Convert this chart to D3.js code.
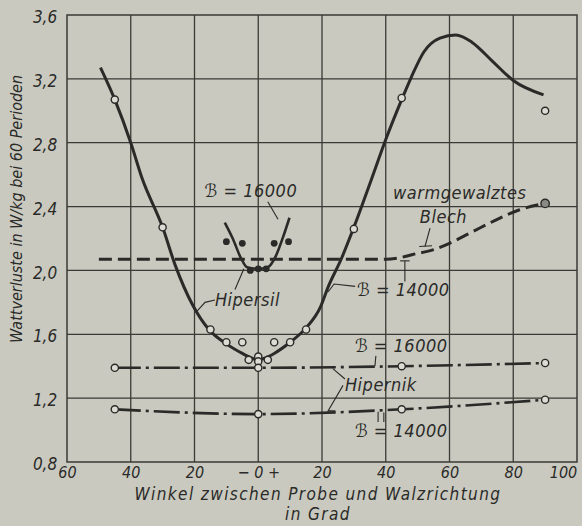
<!DOCTYPE html>
<html>
<head>
<meta charset="utf-8">
<script src="https://cdn.jsdelivr.net/npm/d3@7"></script>
<style>
  body { margin: 0; background: #c9c9bf; }
  svg text { font-family: "DejaVu Sans Condensed", "DejaVu Sans", sans-serif; font-style: italic; fill: #2a2a28; }
</style>
</head>
<body>
<div id="chart"></div>
<script>
// tick labels
var xTicks = [-60, -40, -20, 0, 20, 40, 60, 80, 100];
var xTickLabels = ["60", "40", "20", "\u2212 0 +", "20", "40", "60", "80", "100"];
var yTicks = [0.8, 1.2, 1.6, 2.0, 2.4, 2.8, 3.2, 3.6];
var yTickLabels = ["0,8", "1,2", "1,6", "2,0", "2,4", "2,8", "3,2", "3,6"];

// Hipersil, B = 14000 (solid curve) and its measured points
var hipersil14Curve = [[-49.5, 3.27], [-45, 3.07], [-40, 2.80], [-36.5, 2.58], [-30, 2.27], [-26, 2.03],
  [-20.5, 1.78], [-15.5, 1.63], [-10, 1.54], [-5, 1.48], [-2, 1.45], [0, 1.44], [2, 1.45], [5, 1.48],
  [10, 1.55], [15, 1.64], [19.5, 1.77], [22, 1.90], [26, 2.07], [30, 2.27], [35.5, 2.57], [40, 2.82],
  [45, 3.07], [48, 3.21], [52, 3.37], [57, 3.455], [62, 3.475], [67, 3.43], [73.5, 3.31], [80, 3.19], [89.5, 3.10]];
var hipersil14Points = [[-45, 3.07], [-30, 2.27], [-15, 1.63], [-10, 1.55], [-5, 1.55], [-3, 1.44],
  [0, 1.46], [0, 1.43], [3, 1.44], [5, 1.55], [10, 1.55], [15, 1.63], [30, 2.26], [45, 3.08], [90, 3.0]];

// Hipersil, B = 16000 (short curve) and its points
var hipersil16Curve = [[-10.5, 2.30], [-8, 2.20], [-5.5, 2.08], [-3.5, 2.02], [0, 2.01], [3, 2.02],
  [5.5, 2.09], [7.8, 2.21], [9.8, 2.33]];
var hipersil16Points = [[-10, 2.18], [-5, 2.17], [-2.5, 2.0], [0, 2.01], [2.5, 2.01], [5, 2.17], [9.5, 2.18]];

// warmgewalztes Blech (dashed)
var blechCurve = [[-50, 2.07], [-20, 2.07], [0, 2.07], [20, 2.07], [40, 2.07], [44.5, 2.08], [48.5, 2.10],
  [55, 2.13], [60, 2.17], [67, 2.24], [75, 2.32], [82, 2.38], [90, 2.42]];

// Hipernik, B = 16000 and B = 14000 (dash-dot)
var hipernik16 = [[-45, 1.39], [0, 1.39], [45, 1.40], [90, 1.42]];
var hipernik14 = [[-45, 1.13], [0, 1.10], [45, 1.13], [90, 1.19]];

var W = 582, H = 526;
var margin = {top: 15, right: 5, bottom: 64, left: 67},
    width = W - margin.left - margin.right,
    height = H - margin.top - margin.bottom;

var svg = d3.select("#chart").append("svg")
    .attr("width", W).attr("height", H)
  .append("g")
    .attr("transform", "translate(" + margin.left + "," + margin.top + ")");

var x = d3.scaleLinear().domain([-60, 100]).range([0, width]);
var y = d3.scaleLinear().domain([0.8, 3.6]).range([height, 0]);

var ink = "#2a2a28";

// grid
svg.append("g").selectAll("line.v")
  .data(xTicks.slice(1, -1)).enter().append("line")
  .attr("x1", function(d) { return x(d); }).attr("x2", function(d) { return x(d); })
  .attr("y1", 0).attr("y2", height)
  .attr("stroke", "#3a3a36").attr("stroke-width", 1.3);
svg.append("g").selectAll("line.h")
  .data(yTicks.slice(1, -1)).enter().append("line")
  .attr("y1", function(d) { return y(d); }).attr("y2", function(d) { return y(d); })
  .attr("x1", 0).attr("x2", width)
  .attr("stroke", "#3a3a36").attr("stroke-width", 1.3);
svg.append("rect")
  .attr("width", width).attr("height", height)
  .attr("fill", "none").attr("stroke", "#3a3a36").attr("stroke-width", 1.5);

// axes (labels only, the frame is the rect)
var xAxis = svg.append("g")
  .attr("transform", "translate(0," + height + ")")
  .call(d3.axisBottom(x).tickValues(xTicks).tickSize(0).tickPadding(2)
    .tickFormat(function(d, i) { return xTickLabels[i]; }));
xAxis.select(".domain").remove();
xAxis.selectAll("text").attr("dy", "0.9em").style("font-size", "16px").attr("fill", ink)
  .attr("dx", function(d, i) { return i === xTicks.length - 1 ? -14 : 0; });

var yAxis = svg.append("g")
  .call(d3.axisLeft(y).tickValues(yTicks).tickSize(0)
    .tickFormat(function(d, i) { return yTickLabels[i]; }));
yAxis.select(".domain").remove();
yAxis.selectAll("text").attr("dx", "-0.4em").attr("dy", "0.45em").style("font-size", "17px").attr("fill", ink);

// titles
svg.append("text")
  .attr("transform", "translate(" + (22 - margin.left) + "," + (209 - margin.top) + ") rotate(-90)")
  .attr("text-anchor", "middle").style("font-size", "16px")
  .text("Wattverluste in W/kg bei 60 Perioden");
svg.append("text")
  .attr("x", 318 - margin.left).attr("y", 500 - margin.top)
  .attr("text-anchor", "middle").style("font-size", "17px").style("letter-spacing", "1.4px")
  .text("Winkel zwischen Probe und Walzrichtung");
svg.append("text")
  .attr("x", 318 - margin.left).attr("y", 520 - margin.top)
  .attr("text-anchor", "middle").style("font-size", "17px").style("letter-spacing", "1.4px")
  .text("in Grad");

var smooth = d3.line()
  .x(function(d) { return x(d[0]); })
  .y(function(d) { return y(d[1]); })
  .curve(d3.curveMonotoneX);

// curves
svg.append("path").datum(blechCurve).attr("d", smooth)
  .attr("fill", "none").attr("stroke", ink).attr("stroke-width", 3)
  .attr("stroke-dasharray", "13,6");
svg.append("path").datum(hipernik16).attr("d", smooth)
  .attr("fill", "none").attr("stroke", ink).attr("stroke-width", 2.6)
  .attr("stroke-dasharray", "26,5,3,5");
svg.append("path").datum(hipernik14).attr("d", smooth)
  .attr("fill", "none").attr("stroke", ink).attr("stroke-width", 2.6)
  .attr("stroke-dasharray", "26,5,3,5");
svg.append("path").datum(hipersil14Curve).attr("d", smooth)
  .attr("fill", "none").attr("stroke", ink).attr("stroke-width", 3);
svg.append("path").datum(hipersil16Curve).attr("d", smooth)
  .attr("fill", "none").attr("stroke", ink).attr("stroke-width", 2.6);

// measured points
function openDots(data) {
  svg.append("g").selectAll("circle").data(data).enter().append("circle")
    .attr("cx", function(d) { return x(d[0]); })
    .attr("cy", function(d) { return y(d[1]); })
    .attr("r", 3.6)
    .attr("fill", "#dcdcd4").attr("stroke", ink).attr("stroke-width", 1.4);
}
openDots(hipersil14Points);
openDots(hipernik16);
openDots(hipernik14);
svg.append("g").selectAll("circle").data(hipersil16Points).enter().append("circle")
  .attr("cx", function(d) { return x(d[0]); })
  .attr("cy", function(d) { return y(d[1]); })
  .attr("r", 3.4).attr("fill", ink);
// end point of the Blech curve
var last = blechCurve[blechCurve.length - 1];
svg.append("circle").attr("cx", x(last[0])).attr("cy", y(last[1])).attr("r", 4.2)
  .attr("fill", "#8a8a84").attr("stroke", ink).attr("stroke-width", 1.4);

// annotations (data coordinates)
function label(ax, ay, txt, anchor) {
  svg.append("text").attr("x", x(ax)).attr("y", y(ay))
    .attr("text-anchor", anchor || "start")
    .style("font-size", "18px").style("letter-spacing", "0.5px").text(txt);
}
function leader(pts) {
  svg.append("path").datum(pts)
    .attr("d", d3.line().x(function(d) { return x(d[0]); }).y(function(d) { return y(d[1]); }))
    .attr("fill", "none").attr("stroke", ink).attr("stroke-width", 1.1);
}

label(-2.3, 2.46, "\u212C = 16000", "middle");
leader([[3.0, 2.43], [6.2, 2.32]]);

label(-13.6, 1.78, "Hipersil");
leader([[-13.6, 1.815], [-16.7, 1.80], [-19.2, 1.745]]);
leader([[-7.3, 1.88], [-4.5, 2.01]]);

label(31, 1.84, "\u212C = 14000");
leader([[30.4, 1.90], [23.8, 1.915], [21.9, 1.865]]);
leader([[46, 1.93], [46, 2.06]]);
leader([[44.5, 2.06], [47.5, 2.06]]);

label(42.3, 2.45, "warmgewalztes");
label(50.7, 2.30, "Blech");
leader([[53.9, 2.265], [52.3, 2.15]]);
leader([[50.5, 2.15], [54.5, 2.155]]);

label(30.35, 1.49, "\u212C = 16000");
leader([[36.9, 1.465], [36.6, 1.40]]);

label(27.2, 1.245, "Hipernik");
leader([[27.2, 1.32], [23.4, 1.385]]);
leader([[26.6, 1.28], [21.9, 1.12], [24.2, 1.12]]);

label(30.35, 0.957, "\u212C = 14000");
leader([[37.6, 1.05], [37.6, 1.115]]);
leader([[39.4, 1.05], [39.4, 1.11]]);
</script>
</body>
</html>
